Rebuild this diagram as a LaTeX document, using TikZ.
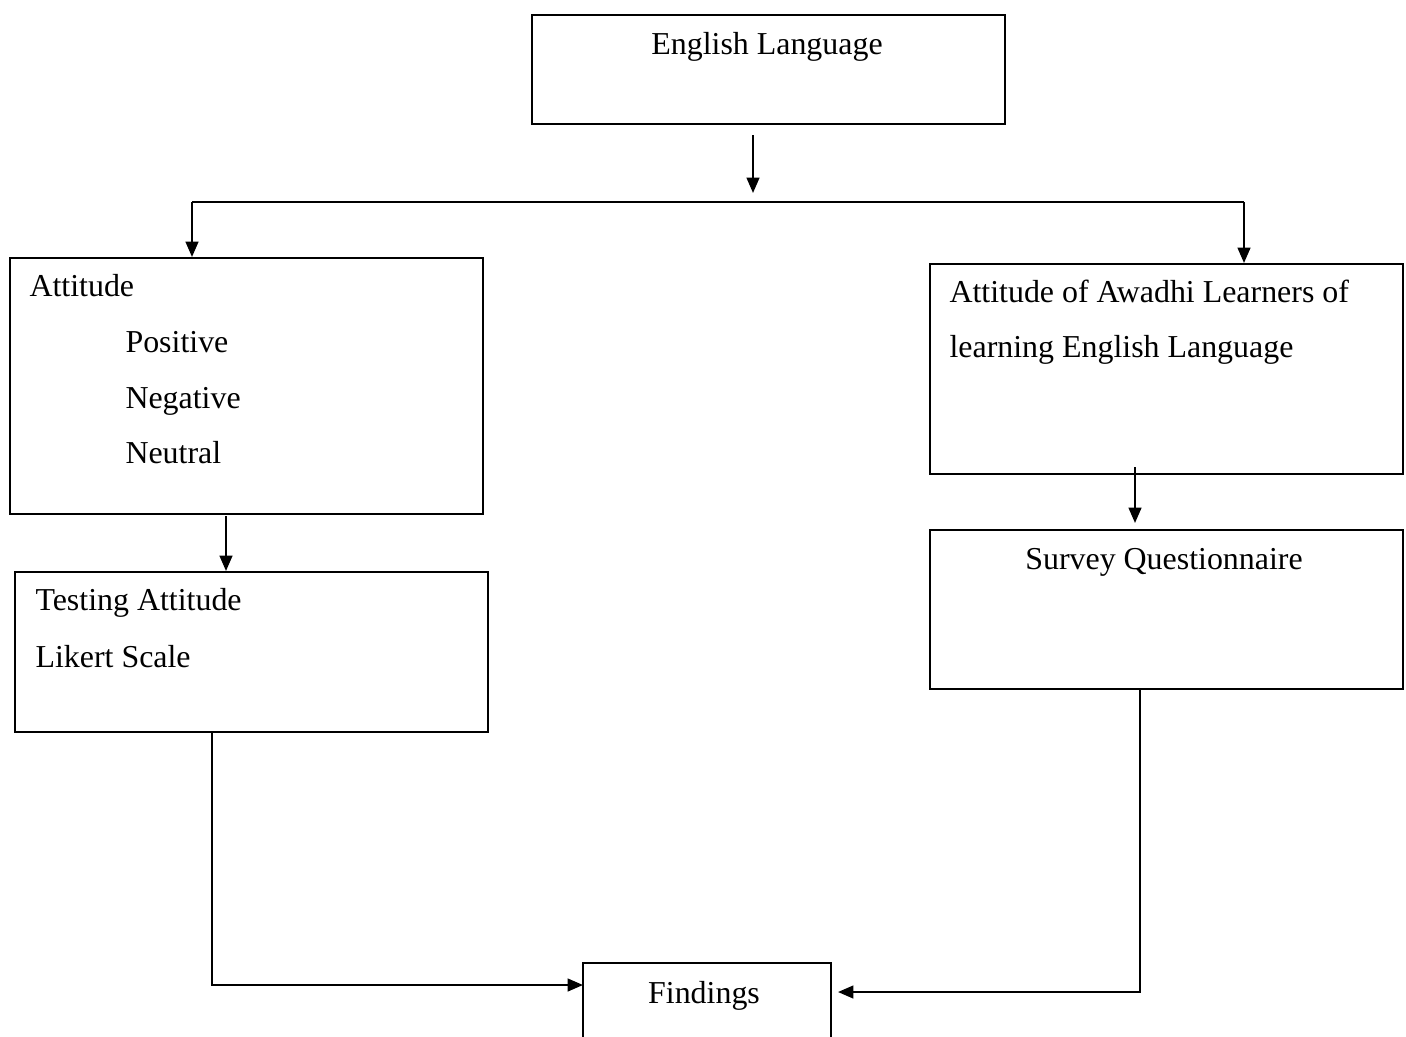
\documentclass[tikz,border=0pt]{standalone}
\usepackage{fontspec}
\setmainfont{Liberation Serif}
\usetikzlibrary{arrows.meta}
\newcommand{\pxUnit}[0]{0.376pt}

\begin{document}
\begin{tikzpicture}[x=\pxUnit, y=-\pxUnit]
  \tikzset{box/.style 2 args={draw, line width=0.8pt, anchor=north west, inner sep=0pt,
                              minimum width=#1*\pxUnit, minimum height=#2*\pxUnit},
           txt/.style={anchor=base west, inner sep=0pt, font=\fontsize{12}{14}\selectfont},
           arr/.style={line width=0.8pt, -{Triangle[length=5.8pt,width=4.8pt]}}}
  \useasboundingbox (0,0) rectangle (1406,1036);
  % boxes
  \node[box={473}{109}] (eng)  at (531,14)  {};
  \node[box={473}{256}] (att)  at (9,257)   {};
  \node[box={473}{210}] (awa)  at (929,263) {};
  \node[box={473}{160}] (test) at (14,571)  {};
  \node[box={473}{159}] (surv) at (929,529) {};
  \node[box={248}{100}] (find) at (582,962) {};
  % texts
  \node[txt, anchor=base] (engT) at (767,54) {English Language};
  \node[txt] (attT) at (29,296)  {Attitude};
  \node[txt] (posT) at (125,352) {Positive};
  \node[txt] (negT) at (125,408) {Negative};
  \node[txt] (neuT) at (125,463) {Neutral};
  \node[txt] (awaT1) at (949,302) {Attitude of Awadhi Learners of};
  \node[txt] (awaT2) at (949,357) {learning English Language};
  \node[txt] (testT1) at (35,610) {Testing Attitude};
  \node[txt] (testT2) at (35,667) {Likert Scale};
  \node[txt, anchor=base] (survT) at (1164,569) {Survey Questionnaire};
  \node[txt, anchor=base] (findT) at (704,1003) {Findings};
  % connectors
  \coordinate (engOut) at (753,135);
  \coordinate (engIn) at (753,193);
  \coordinate (splitL) at (192,202);
  \coordinate (splitR) at (1244,202);
  \coordinate (attOut) at (226,516);
  \coordinate (awaOut) at (1135,467);
  \coordinate (testOut) at (212,731);
  \coordinate (survOut) at (1140,688);
  \coordinate (findInL) at (583,985);
  \coordinate (findInR) at (838,992);
  \draw[arr] (engOut) -- (engIn);
  \draw[line width=0.8pt] (splitL) -- (splitR);
  \draw[arr] (splitL) -- (splitL |- att.north);
  \draw[arr] (splitR) -- (splitR |- awa.north);
  \draw[arr] (attOut) -- (attOut |- test.north);
  \draw[arr, shorten >=6*\pxUnit] (awaOut) -- (awaOut |- surv.north);
  \draw[arr] (testOut) |- (findInL);
  \draw[arr] (survOut) |- (findInR);
\end{tikzpicture}
\end{document}
